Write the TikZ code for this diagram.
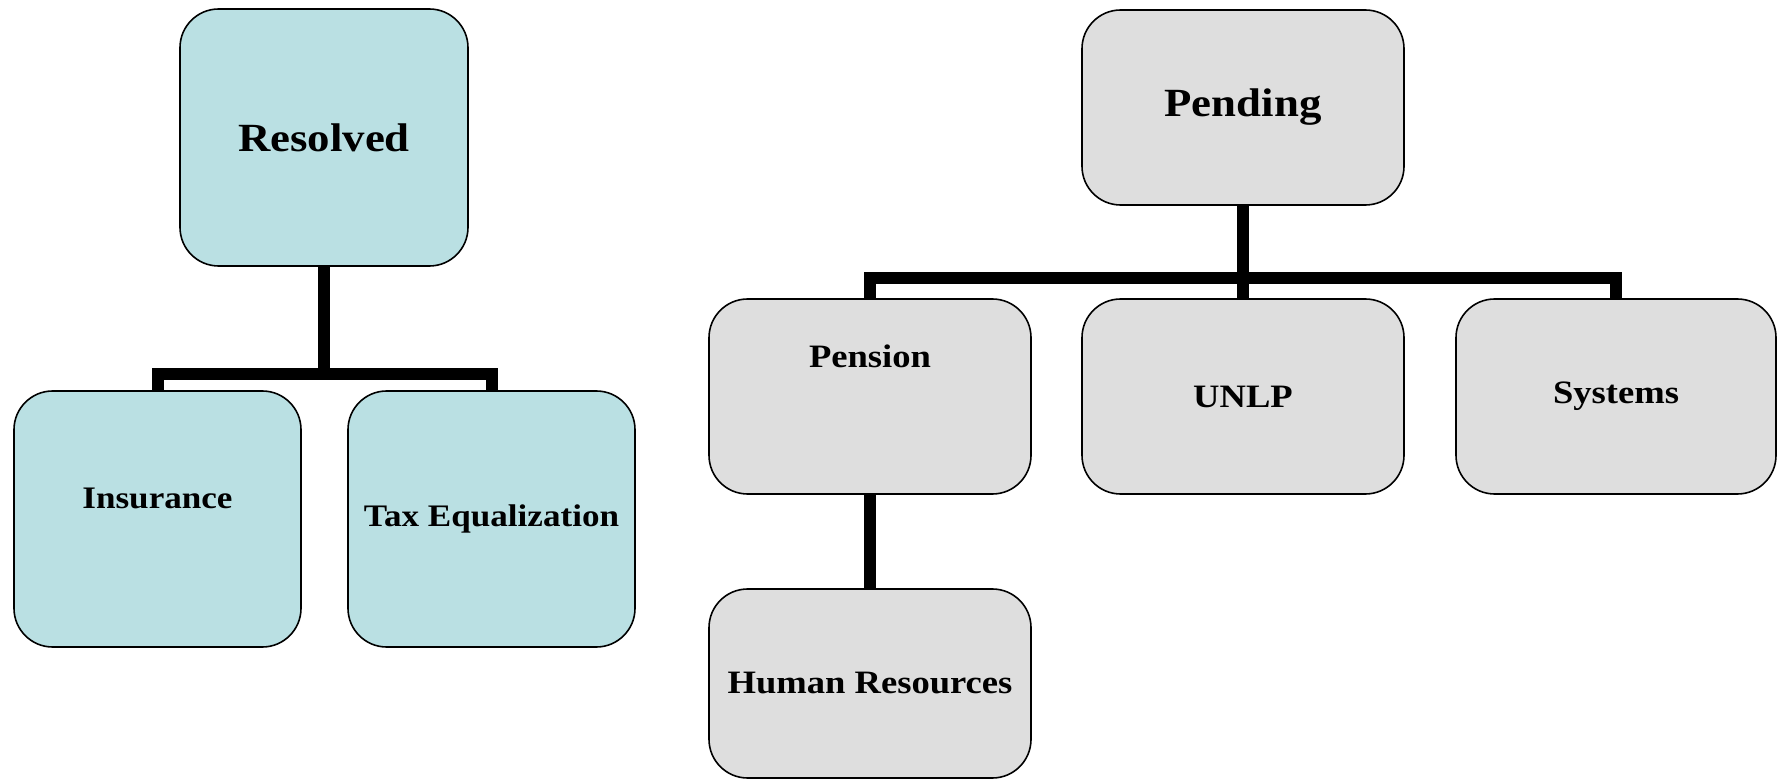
\documentclass[tikz,border=0pt]{standalone}
\usepackage{fontspec}
\setmainfont{Liberation Serif}[FakeStretch=1.12]
\definecolor{resfill}{HTML}{BAE0E3}
\definecolor{penfill}{HTML}{DEDEDE}
\tikzset{
  box/.style={draw=black, line width=1.2pt, rounded corners=29pt, inner sep=0pt, outer sep=0pt, align=center, font=\bfseries},
  resbox/.style={box, fill=resfill},
  penbox/.style={box, fill=penfill},
  conn/.style={draw=black, line width=9pt, line join=miter, line cap=butt},
  big/.style={font=\fontsize{30}{36}\selectfont\bfseries},
  small/.style={font=\fontsize{23.5}{28}\selectfont\bfseries},
  mid/.style={font=\fontsize{24.5}{29}\selectfont\bfseries}
}
\begin{document}
\begin{tikzpicture}[x=0.75pt,y=-0.75pt]
\useasboundingbox (0,0) rectangle (1782,780);
% Resolved tree
\node[resbox, big, minimum width=216pt, minimum height=192.75pt] (res) at (324,137.5) {Resolved};
\node[resbox, minimum width=215.25pt, minimum height=192pt, label={[small, yshift=15.5pt]center:Insurance}] (ins) at (157.5,519) {};
\node[resbox, small, minimum width=215.25pt, minimum height=192pt] (tax) at (491.5,519) {Tax Equalization};
\coordinate (rj) at (324,374);
\draw[conn] (res.south) -- (rj);
\draw[conn] (ins.north) -- (ins.north |- rj) -- (tax.north |- rj) -- (tax.north);
% Pending tree
\node[penbox, big, minimum width=241.5pt, minimum height=146.25pt] (pen) at (1243,107.5) {Pending};
\node[penbox, minimum width=241.5pt, minimum height=146.25pt, label={[mid, yshift=30pt]center:Pension}] (pns) at (870,396.5) {};
\node[penbox, mid, minimum width=241.5pt, minimum height=146.25pt] (unlp) at (1243,396.5) {UNLP};
\node[penbox, mid, minimum width=240pt, minimum height=146.25pt] (sys) at (1616,396.5) {Systems};
\node[penbox, mid, minimum width=241.5pt, minimum height=141.75pt] (hr) at (870,683.5) {Human Resources};
\coordinate (pj) at (1243,278);
\draw[conn] (pen.south) -- (unlp.north);
\draw[conn] (pns.north) -- (pns.north |- pj) -- (sys.north |- pj) -- (sys.north);
\draw[conn] (pns.south) -- (hr.north);
\end{tikzpicture}
\end{document}
